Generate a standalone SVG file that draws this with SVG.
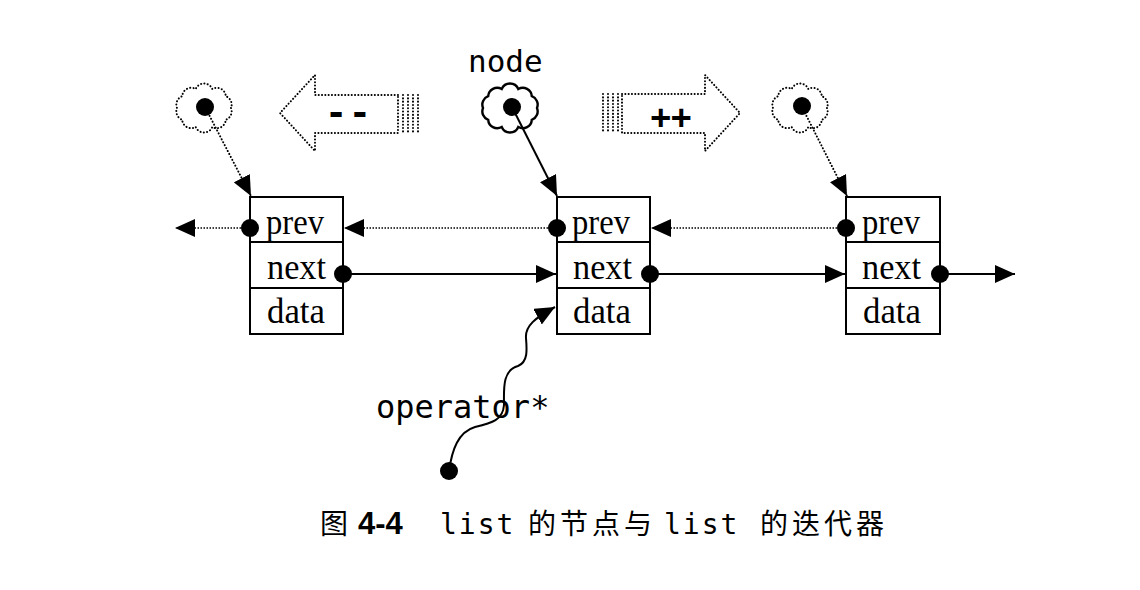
<svg xmlns="http://www.w3.org/2000/svg" width="1140" height="590" viewBox="0 0 1140 590">
<style>
.box{fill:#fff;stroke:#000;stroke-width:2}
.fld{font-family:"Liberation Serif","Times New Roman",serif;font-size:36px;fill:#000}
.mono{font-family:"DejaVu Sans Mono","Liberation Mono",monospace;fill:#000}
.solid{fill:none;stroke:#000;stroke-width:2}
.dot{fill:none;stroke:#000;stroke-width:2;stroke-dasharray:0.1 3.2;stroke-linecap:round}
.dotl{fill:none;stroke:#000;stroke-width:1.4;stroke-dasharray:1.5 1.5}
.pt{fill:#000}
.cap{font-family:"Noto Sans CJK SC","Liberation Sans",sans-serif;font-size:28px;fill:#000}
</style>
<defs>
<marker id="ah" markerUnits="userSpaceOnUse" markerWidth="20" markerHeight="18" refX="20" refY="9" orient="auto" viewBox="0 0 20 18">
<path d="M0,0 L20,9 L0,18 Z" fill="#000"/>
</marker>
<path id="cloud" d="M27,0 A9,9 0 0 1 21.8,11.8 A9,9 0 0 1 8.3,19 A9,9 0 0 1 -8.3,19 A9,9 0 0 1 -21.8,11.8 A9,9 0 0 1 -27,0 A9,9 0 0 1 -21.8,-11.8 A9,9 0 0 1 -8.3,-19 A9,9 0 0 1 8.3,-19 A9,9 0 0 1 21.8,-11.8 A9,9 0 0 1 27,0 Z"/>
</defs>
<rect width="1140" height="590" fill="#fff"/>

<g id="iter-left">
<use href="#cloud" x="204" y="108" class="dot"/>
</g>
<g id="iter-node">
<use href="#cloud" x="510" y="108" class="solid" style="stroke-width:2.4"/>
<text class="mono" x="468" y="72" font-size="31">node</text>
</g>
<g id="iter-right">
<use href="#cloud" x="800" y="108" class="dot"/>
</g>

<g id="arrow-dec">
<path class="dot" d="M398,95 L315,95 L315,75 L280,113 L315,151 L315,133 L398,133 Z"/>
<path class="dot" d="M403,95 V133 M408,95 V133 M413,95 V133 M418,95 V133"/>
<text class="mono" x="349" y="125" font-size="36" font-weight="bold" text-anchor="middle" letter-spacing="2">--</text>
</g>
<g id="arrow-inc">
<path class="dot" d="M622,94 L705,94 L705,75 L740,113 L705,151 L705,133 L622,133 Z"/>
<path class="dot" d="M603,94 V133 M608,94 V133 M613,94 V133 M618,94 V133"/>
<text class="mono" x="671" y="129" font-size="34" font-weight="bold" text-anchor="middle">++</text>
</g>

<g id="node-left">
<rect class="box" x="250" y="197" width="93" height="137"/>
<line class="solid" x1="250" y1="242" x2="343" y2="242"/>
<line class="solid" x1="250" y1="288" x2="343" y2="288"/>
<text class="fld" x="266" y="234" textLength="58" lengthAdjust="spacingAndGlyphs">prev</text>
<text class="fld" x="267" y="279" textLength="59" lengthAdjust="spacingAndGlyphs">next</text>
<text class="fld" x="267" y="323" textLength="58" lengthAdjust="spacingAndGlyphs">data</text>
</g>
<g id="node-mid">
<rect class="box" x="557" y="197" width="93" height="137"/>
<line class="solid" x1="557" y1="242" x2="650" y2="242"/>
<line class="solid" x1="557" y1="288" x2="650" y2="288"/>
<text class="fld" x="572" y="234" textLength="58" lengthAdjust="spacingAndGlyphs">prev</text>
<text class="fld" x="573" y="279" textLength="59" lengthAdjust="spacingAndGlyphs">next</text>
<text class="fld" x="573" y="323" textLength="58" lengthAdjust="spacingAndGlyphs">data</text>
</g>
<g id="node-right">
<rect class="box" x="846" y="197" width="94" height="137"/>
<line class="solid" x1="846" y1="242" x2="940" y2="242"/>
<line class="solid" x1="846" y1="288" x2="940" y2="288"/>
<text class="fld" x="862" y="234" textLength="58" lengthAdjust="spacingAndGlyphs">prev</text>
<text class="fld" x="862" y="279" textLength="59" lengthAdjust="spacingAndGlyphs">next</text>
<text class="fld" x="863" y="323" textLength="58" lengthAdjust="spacingAndGlyphs">data</text>
</g>

<g id="operator-label">
<text class="mono" x="376" y="418" font-size="32">operator*</text>
</g>

<g id="connectors">
<line class="dot" x1="205" y1="107" x2="251" y2="196" marker-end="url(#ah)"/>
<line class="solid" x1="512" y1="107" x2="557" y2="196" marker-end="url(#ah)"/>
<line class="dot" x1="802" y1="107" x2="847" y2="196" marker-end="url(#ah)"/>
<line class="dotl" x1="250" y1="228" x2="175" y2="228" marker-end="url(#ah)"/>
<line class="dotl" x1="557" y1="228" x2="344" y2="228" marker-end="url(#ah)"/>
<line class="dotl" x1="846" y1="228" x2="651" y2="228" marker-end="url(#ah)"/>
<line class="solid" x1="343" y1="274" x2="556" y2="274" marker-end="url(#ah)"/>
<line class="solid" x1="650" y1="274" x2="845" y2="274" marker-end="url(#ah)"/>
<line class="solid" x1="940" y1="274" x2="1015" y2="274" marker-end="url(#ah)"/>
<path class="solid" d="M449,471 C452,450 458,432 475,427 C492,423 503,420 504,405 C504,390 502,370 518,366 C528,362 527,350 526,338 C525,326 535,318 555,307" marker-end="url(#ah)"/>
<circle class="pt" cx="205" cy="107" r="9"/>
<circle class="pt" cx="512" cy="107" r="9"/>
<circle class="pt" cx="802" cy="106" r="9"/>
<circle class="pt" cx="250" cy="228" r="9"/>
<circle class="pt" cx="557" cy="228" r="9"/>
<circle class="pt" cx="846" cy="228" r="9"/>
<circle class="pt" cx="343" cy="274" r="9"/>
<circle class="pt" cx="650" cy="274" r="9"/>
<circle class="pt" cx="940" cy="274" r="9"/>
<circle class="pt" cx="449" cy="471" r="9"/>
</g>

<g id="caption">
<text class="cap" y="534"><tspan x="320">图</tspan><tspan x="358" font-family="Liberation Sans,sans-serif" font-weight="bold" font-size="31">4-4</tspan><tspan x="440" class="mono" letter-spacing="2">list</tspan><tspan x="528" letter-spacing="4">的节点与</tspan><tspan x="664" class="mono" letter-spacing="2">list</tspan><tspan x="760" letter-spacing="4">的迭代器</tspan></text>
</g>
</svg>
